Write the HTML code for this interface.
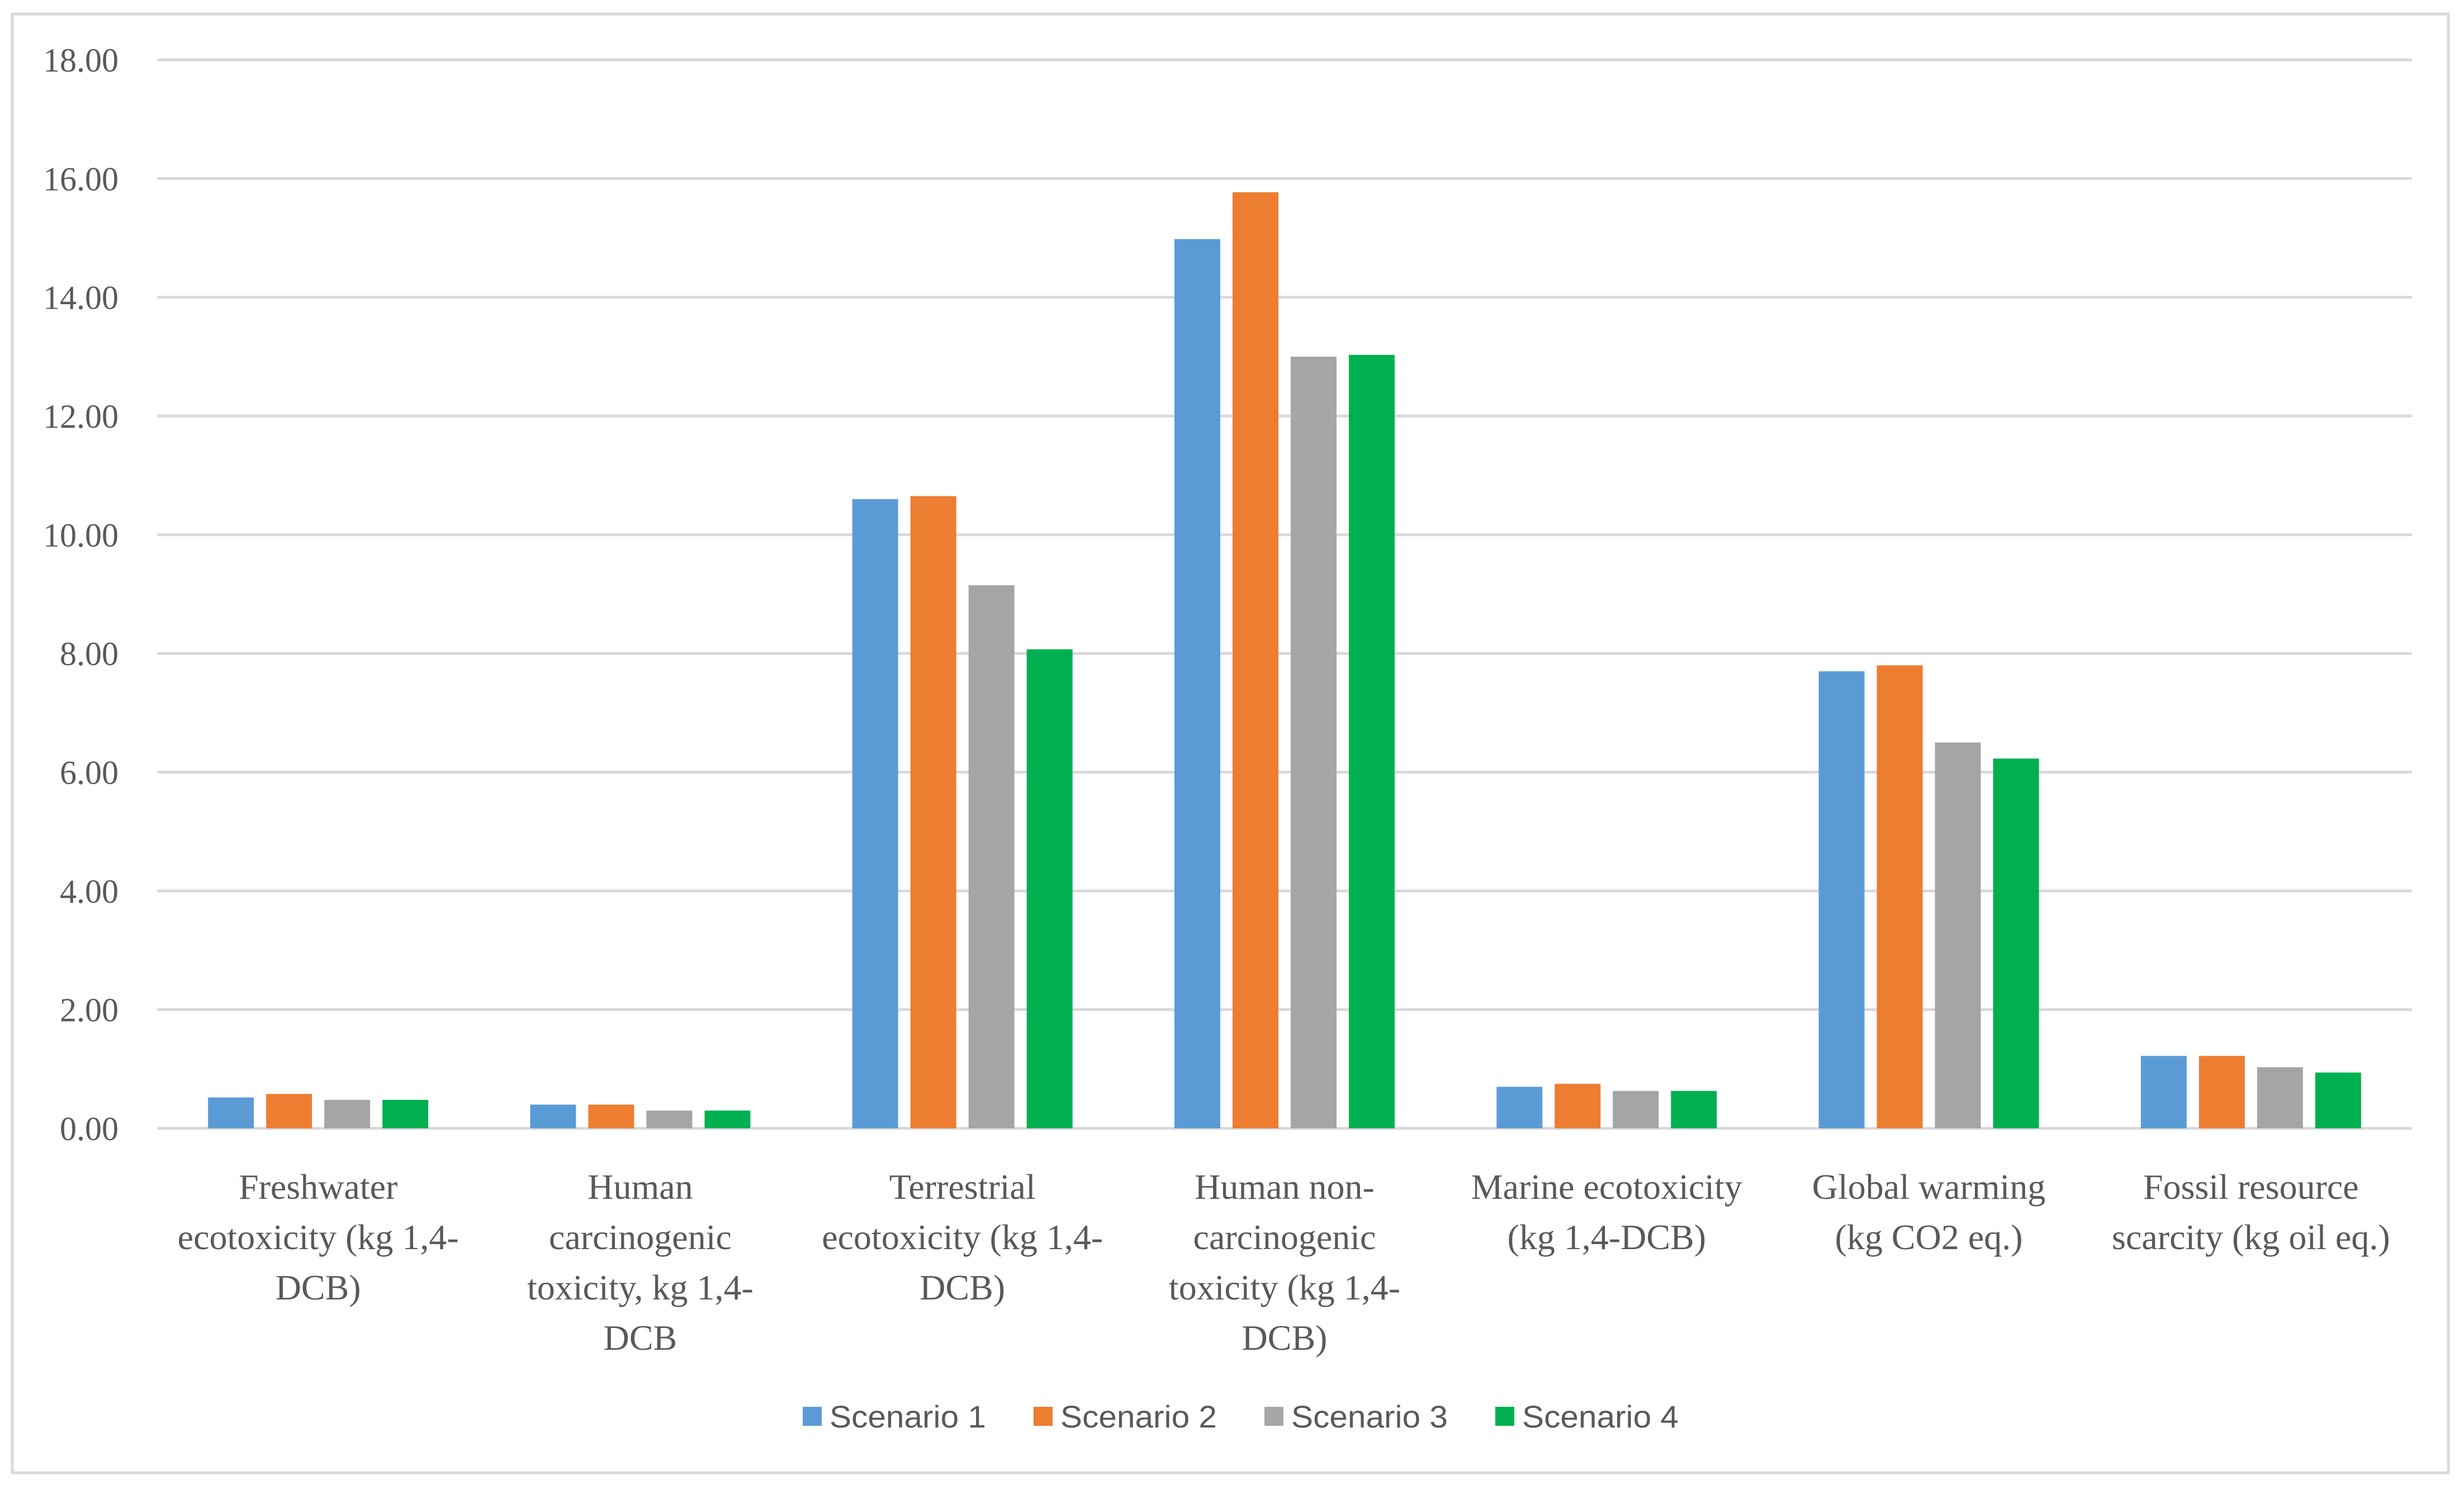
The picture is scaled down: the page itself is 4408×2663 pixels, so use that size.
<!DOCTYPE html>
<html><head><meta charset="utf-8"><style>
html,body{margin:0;padding:0;background:#fff;}
svg{display:block;}
</style></head><body>
<svg id="chart" width="4408" height="2663" xmlns="http://www.w3.org/2000/svg">
<rect x="22" y="25" width="4358" height="2609" fill="#fff" stroke="#d9d9d9" stroke-width="5"/>
<g id="grid"></g><g id="bars"></g><g id="ylabels"></g><g id="xlabels"></g><g id="legend"></g>
</svg>
<script>
const categories = [
  ["Freshwater","ecotoxicity (kg 1,4-","DCB)"],
  ["Human","carcinogenic","toxicity, kg 1,4-","DCB"],
  ["Terrestrial","ecotoxicity (kg 1,4-","DCB)"],
  ["Human non-","carcinogenic","toxicity (kg 1,4-","DCB)"],
  ["Marine ecotoxicity","(kg 1,4-DCB)"],
  ["Global warming","(kg CO2 eq.)"],
  ["Fossil resource","scarcity (kg oil eq.)"]
];
const seriesNames = ["Scenario 1","Scenario 2","Scenario 3","Scenario 4"];
const scenario1 = [0.52, 0.40, 10.60, 14.98, 0.70, 7.70, 1.22];
const scenario2 = [0.58, 0.40, 10.65, 15.77, 0.75, 7.80, 1.22];
const scenario3 = [0.48, 0.30, 9.15, 13.00, 0.63, 6.50, 1.03];
const scenario4 = [0.48, 0.30, 8.07, 13.03, 0.63, 6.23, 0.94];
const yTicks = [0,2,4,6,8,10,12,14,16,18];
const colors = ["#5B9BD5","#ED7D31","#A5A5A5","#00B050"];

const NS="http://www.w3.org/2000/svg";
const L=281,R=4315,T=107,B=2018,yMax=18;
const y=v=>B-(v/yMax)*(B-T);
const cw=(R-L)/categories.length;
const bw=82,gap=22;
function mk(tag,parent,attrs){const e=document.createElementNS(NS,tag);for(const k in attrs)e.setAttribute(k,attrs[k]);document.getElementById(parent).appendChild(e);return e;}

yTicks.forEach(t=>{
  const g=mk("line","grid",{x1:L,x2:R,y1:y(t),y2:y(t),stroke:"#d9d9d9","stroke-width":5});
  
  
  const tx=mk("text","ylabels",{x:212,y:y(t)+21,"text-anchor":"end","font-family":"Liberation Serif, serif","font-size":60,fill:"#595959"});
  tx.textContent=t.toFixed(2);
  
  
});
const series=[scenario1,scenario2,scenario3,scenario4];
const groupW=4*bw+3*gap;
categories.forEach((c,i)=>{
  const cx=L+cw*(i+0.5);
  series.forEach((s,j)=>{
    const x=cx-groupW/2+j*(bw+gap);
    const r=mk("rect","bars",{x:x,y:y(s[i]),width:bw,height:B-y(s[i]),fill:colors[j]});
    
    
  });
  c.forEach((line,k)=>{
    const tx=mk("text","xlabels",{x:cx,y:2144+k*90,"text-anchor":"middle","font-family":"Liberation Serif, serif","font-size":64,fill:"#595959"});
    tx.textContent=line;
    
    
  });
});
seriesNames.forEach((n,j)=>{
  const x0=1436+j*413;
  const sq=mk("rect","legend",{x:x0,y:2516,width:34,height:34,fill:colors[j]});
  
  
  const tx=mk("text","legend",{x:x0+48,y:2553,"font-family":"Liberation Sans, sans-serif","font-size":56,fill:"#595959",textLength:280,lengthAdjust:"spacingAndGlyphs"});
  tx.textContent=n;
  
  
});
</script>
</body></html>
